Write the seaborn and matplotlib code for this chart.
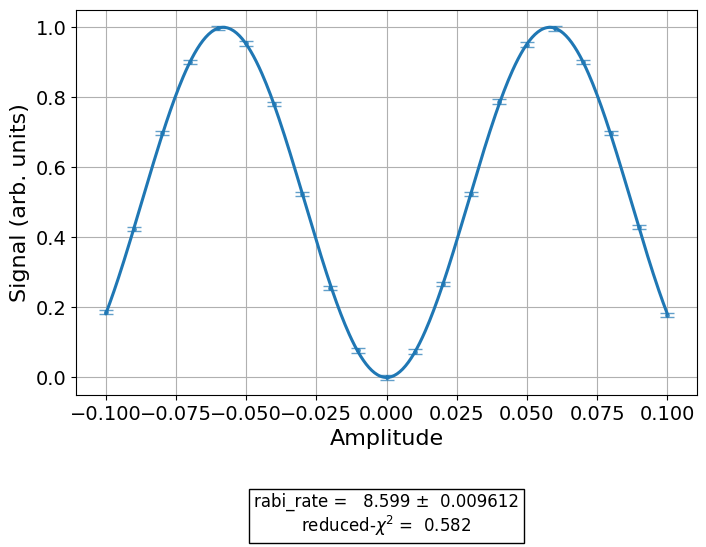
import numpy as np
import pandas as pd
import matplotlib
matplotlib.use("Agg")
import matplotlib.pyplot as plt
import seaborn as sns

amplitude = [-0.10, -0.09, -0.08, -0.07, -0.06, -0.05, -0.04, -0.03, -0.02, -0.01,
             0.00, 0.01, 0.02, 0.03, 0.04, 0.05, 0.06, 0.07, 0.08, 0.09, 0.10]
signal = [0.186, 0.424, 0.699, 0.900, 0.998, 0.954, 0.782, 0.524, 0.255, 0.077,
          0.000, 0.074, 0.266, 0.524, 0.788, 0.951, 0.997, 0.900, 0.699, 0.430, 0.178]
signal_err = [0.006] * len(amplitude)

# fit result shown in the box
rabi_rate = 8.599
rabi_rate_err = 0.009612
reduced_chi2 = 0.582

sns.set_style("ticks", rc={"axes.edgecolor": "black", "text.color": "black",
                           "axes.labelcolor": "black", "xtick.color": "black",
                           "ytick.color": "black"})
plt.rcParams["font.family"] = ["DejaVu Sans"]

fig = plt.figure(figsize=(7.06, 5.47), dpi=100)
ax = fig.add_axes([0.108, 0.278, 0.879, 0.704])

ax.errorbar(amplitude, signal, yerr=signal_err, fmt=".", color="C0",
            capsize=5, alpha=0.7, markersize=5, zorder=3)

x_fit = np.linspace(min(amplitude), max(amplitude), 400)
fit_df = pd.DataFrame({"Amplitude": x_fit,
                       "Signal": (1 - np.cos(2 * np.pi * rabi_rate * x_fit)) / 2})
sns.lineplot(data=fit_df, x="Amplitude", y="Signal", color="C0", linewidth=2.2, ax=ax, zorder=4)

ax.grid(True, color="#b0b0b0", linewidth=0.8)
ax.set_xlim(-0.1105, 0.1105)
ax.set_ylim(-0.05, 1.05)
ax.set_xticks([-0.1, -0.075, -0.05, -0.025, 0.0, 0.025, 0.05, 0.075, 0.1])
ax.set_xticklabels([f"{t:.3f}".replace("-", "\u2212") for t in ax.get_xticks()])
ax.set_yticks([0.0, 0.2, 0.4, 0.6, 0.8, 1.0])
ax.tick_params(labelsize=14, length=3.5, width=0.8)
ax.set_xlabel("Amplitude", fontsize=16)
ax.set_ylabel("Signal (arb. units)", fontsize=16)
for s in ax.spines.values():
    s.set_visible(True)
    s.set_linewidth(0.8)

label = (f"rabi_rate = {rabi_rate:7.3f} \u00b1 {rabi_rate_err:9.6f}\n"
         f"reduced-$\\chi^2$ = {reduced_chi2:6.3f}")
fig.text(0.547, 0.058, label, ha="center", va="center", fontsize=12,
         bbox=dict(boxstyle="square,pad=0.3", facecolor="white", edgecolor="black"))

fig.savefig("out.png", dpi=100)
